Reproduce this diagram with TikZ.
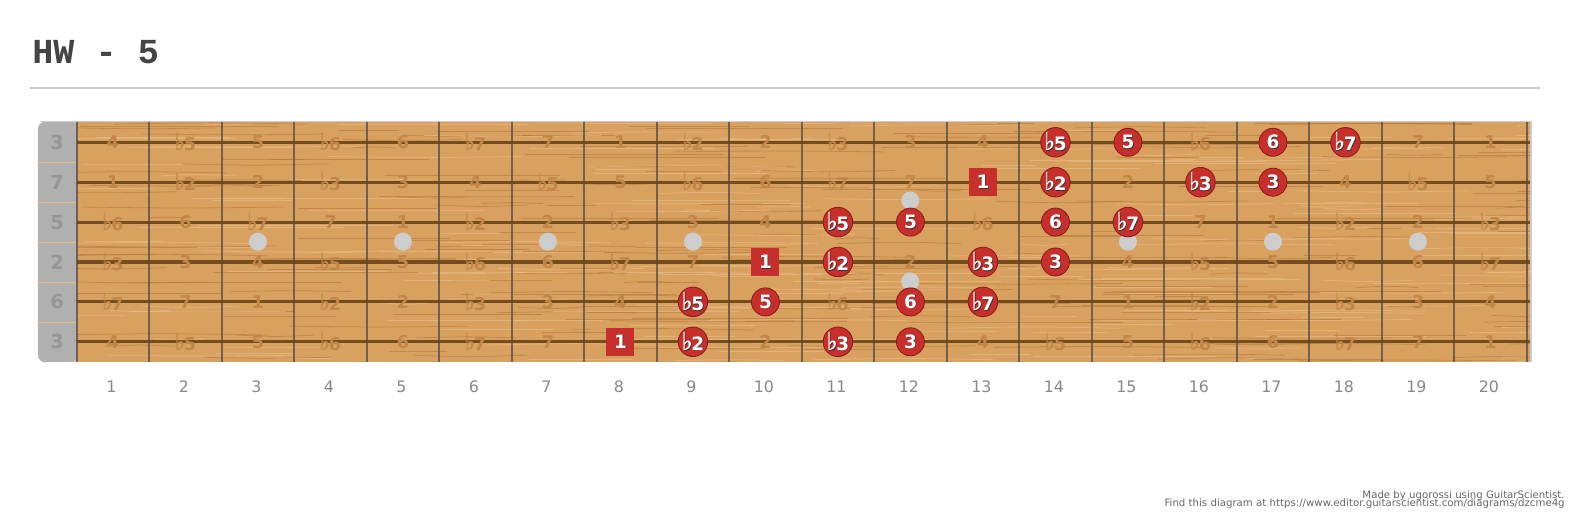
\documentclass[tikz,border=0pt]{standalone}
\usepackage{fontspec}
\setmainfont{DejaVu Sans}
\newfontfamily\titlefont{Liberation Mono}
\usepackage{xcolor}
\usepackage{tikz}
\definecolor{FBWood}{HTML}{D9A160}
\definecolor{FBWoodDark}{HTML}{B37638}
\definecolor{FBWoodLight}{HTML}{EBC28C}
\definecolor{FBString}{HTML}{6A4418}
\definecolor{FBFret}{HTML}{5F5548}
\definecolor{FBNut}{HTML}{B0B0B0}
\definecolor{FBNutText}{HTML}{969696}
\definecolor{FBNote}{HTML}{C62F2B}
\definecolor{FBNoteEdge}{HTML}{8E1D19}
\definecolor{FBInlay}{HTML}{CDCDCD}
\definecolor{FBRule}{HTML}{CCCCCC}
\definecolor{FBTitle}{HTML}{444444}
\definecolor{FBLabel}{HTML}{888888}
\definecolor{FBCredit}{HTML}{666666}

\newcommand{\flt}{{\mdseries\raisebox{-0.2pt}{\scalebox{1.2}[1.35]{\rlap{♭}\kern0.35pt♭}}}\kern-0.8pt}
\newcommand{\ivname}[1]{\ifcase#1 1\or\flt2\or 2\or\flt3\or 3\or 4\or\flt5\or 5\or\flt6\or 6\or\flt7\or 7\fi}
\newcommand{\ntxt}[1]{\rlap{\kern0.45pt\raisebox{-0.45pt}{\color{black!80}#1}}#1}

\tikzset{
  ghost/.style={inner sep=0,text=FBWoodDark!60!FBWood,font=\bfseries\fontsize{10}{12}\selectfont},
  inlay/.style={circle,fill=FBInlay,inner sep=0,minimum size=0.36cm},
  note/.style={circle,fill=FBNote,draw=FBNoteEdge,line width=0.5pt,inner sep=0,minimum size=0.56cm,
    text=white,font=\bfseries\fontsize{10.5}{12}\selectfont},
  rootnote/.style={rectangle,fill=FBNote,inner sep=0,minimum size=0.56cm,
    text=white,font=\bfseries\fontsize{10.5}{12}\selectfont},
  fretnum/.style={inner sep=0,text=FBLabel,font=\fontsize{9}{11}\selectfont},
  stringlbl/.style={inner sep=0,text=FBNutText,font=\bfseries\fontsize{11}{13}\selectfont},
  credit/.style={inner sep=0,anchor=base east,text=FBCredit,font=\fontsize{5.8}{6}\selectfont}
}

\begin{document}
\begin{tikzpicture}[x=0.02cm,y=-0.02cm]
\path[use as bounding box] (0,0) rectangle (1573,519);
% title
\node[anchor=base west,inner sep=0,text=FBTitle,font=\titlefont\bfseries\fontsize{20}{22}\selectfont] (title) at (32,64) {HW - 5};
\draw[FBRule,line width=0.6pt] (30,88) -- (1540,88);
% nut and wood
\fill[FBNut,rounded corners=0.14cm] (80,122) -- (38,122) -- (38,362) -- (80,362) -- cycle;
\draw[black!30,line width=1.2pt,rounded corners=0.14cm] (46,122.5) -- (39,122.5) -- (39,361.5) -- (46,361.5);
\fill[FBWood] (77,122) rectangle (1530,362);
\begin{scope}
\clip (77,122) rectangle (1530,362);
\pgfmathsetseed{42}
\foreach \k in {1,...,420}{
  \pgfmathsetmacro{\sy}{122+240*rnd}
  \pgfmathsetmacro{\sx}{20+1500*rnd}
  \pgfmathsetmacro{\sl}{40+180*rnd}
  \pgfmathsetmacro{\sd}{(rnd-0.5)*4}
  \ifodd\k \def\sc{FBWoodDark}\else\def\sc{FBWoodLight}\fi
  \draw[\sc,opacity=0.55,line width=0.45pt] (\sx,\sy) .. controls ({\sx+\sl/2},{\sy+\sd}) .. ({\sx+\sl},\sy);
}
\end{scope}
\draw[FBRule,line width=0.6pt] (40,121.5) -- (1531,121.5) -- (1531,362);
% cell lines on the nut
\foreach \yy in {162,202,242,282,322}
  \draw[FBWoodLight!80!FBWood,line width=0.5pt] (38,\yy) -- (76,\yy);
% frets
\foreach \f in {0,...,20}
  \draw[FBFret,opacity=0.85,line width=1.2pt] ({76.7+72.5*\f},122) -- ({76.7+72.5*\f},362);
% strings
\foreach \s in {1,...,6}
  \draw[FBString,opacity=0.9,line width=1.8pt] (77,{142.3+39.9*(\s-1)}) -- (1530,{142.3+39.9*(\s-1)});
% string labels
\foreach \s/\lb in {1/3,2/7,3/5,4/2,5/6,6/3}
  \node[stringlbl] (sl-\s) at (57,{142.3+39.9*(\s-1)}) {\lb};
% interval names under the notes
\foreach \s/\op in {1/4,2/11,3/7,4/2,5/9,6/4}
  \foreach \f in {1,...,20}{
    \pgfmathtruncatemacro{\iv}{mod(\op+\f,12)}
    \node[ghost] (g-\s-\f) at ({76.7+72.5*(\f-0.5)},{142.3+39.9*(\s-1)}) {\ivname{\iv}};
  }
% inlays
\foreach \f in {3,5,7,9,15,17,19}
  \node[inlay] (dot-\f) at ({76.7+72.5*(\f-0.5)},241.7) {};
\node[inlay] (dot-12a) at (910.2,200.5) {};
\node[inlay] (dot-12b) at (910.2,281.5) {};
% scale notes
\node[note] (n-1-14) at (g-1-14) {\ntxt{\flt5}};
\node[note] (n-1-15) at (g-1-15) {\ntxt{5}};
\node[note] (n-1-17) at (g-1-17) {\ntxt{6}};
\node[note] (n-1-18) at (g-1-18) {\ntxt{\flt7}};
\node[rootnote] (n-2-13) at (g-2-13) {\ntxt{1}};
\node[note] (n-2-14) at (g-2-14) {\ntxt{\flt2}};
\node[note] (n-2-16) at (g-2-16) {\ntxt{\flt3}};
\node[note] (n-2-17) at (g-2-17) {\ntxt{3}};
\node[note] (n-3-11) at (g-3-11) {\ntxt{\flt5}};
\node[note] (n-3-12) at (g-3-12) {\ntxt{5}};
\node[note] (n-3-14) at (g-3-14) {\ntxt{6}};
\node[note] (n-3-15) at (g-3-15) {\ntxt{\flt7}};
\node[rootnote] (n-4-10) at (g-4-10) {\ntxt{1}};
\node[note] (n-4-11) at (g-4-11) {\ntxt{\flt2}};
\node[note] (n-4-13) at (g-4-13) {\ntxt{\flt3}};
\node[note] (n-4-14) at (g-4-14) {\ntxt{3}};
\node[note] (n-5-9) at (g-5-9) {\ntxt{\flt5}};
\node[note] (n-5-10) at (g-5-10) {\ntxt{5}};
\node[note] (n-5-12) at (g-5-12) {\ntxt{6}};
\node[note] (n-5-13) at (g-5-13) {\ntxt{\flt7}};
\node[rootnote] (n-6-8) at (g-6-8) {\ntxt{1}};
\node[note] (n-6-9) at (g-6-9) {\ntxt{\flt2}};
\node[note] (n-6-11) at (g-6-11) {\ntxt{\flt3}};
\node[note] (n-6-12) at (g-6-12) {\ntxt{3}};
% fret numbers
\foreach \f in {1,...,20}
  \node[fretnum] (fn-\f) at ({75.2+72.5*(\f-0.5)},387) {\f};
% credits
\node[credit] (credit1) at (1565,498.5) {Made by ugorossi using GuitarScientist.};
\node[credit] (credit2) at (1565,507) {Find this diagram at https://www.editor.guitarscientist.com/diagrams/dzcme4g};
\end{tikzpicture}
\end{document}
